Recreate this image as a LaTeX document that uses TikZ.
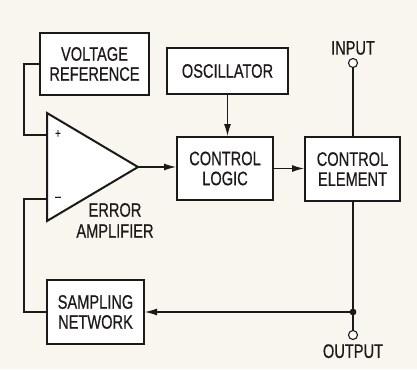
\documentclass[tikz,border=0pt]{standalone}
\usepackage{fontspec}
\setmainfont{Liberation Sans}[FakeStretch=0.75, FakeBold=0.5]
\usetikzlibrary{arrows.meta}
\definecolor{paper}{RGB}{249,245,239}
\definecolor{ink}{RGB}{28,26,24}

\begin{document}
\begin{tikzpicture}[x=1pt, y=-1pt, color=ink,
  block/.style={draw, line width=2pt, fill=white, align=center, inner sep=0pt, font=\fontsize{19.5}{20}\selectfont},
  wire/.style={line width=1.1pt},
  feed/.style={wire, -{Latex[length=12pt,width=7pt]}},
  lbl/.style={inner sep=0pt, font=\fontsize{19.5}{20}\selectfont},
  term/.style={draw, circle, line width=1.1pt, fill=white, minimum size=9pt, inner sep=0pt}]
\fill[paper] (0,0) rectangle (417,369);
\node[block, minimum width=109, minimum height=62] (vref) at (94.5,64) {VOLTAGE\\REFERENCE};
\node[block, minimum width=121, minimum height=46] (osc) at (227.5,71) {OSCILLATOR};
\node[block, minimum width=96, minimum height=63] (logic) at (225,168.5) {CONTROL\\LOGIC};
\node[block, minimum width=95, minimum height=64] (elem) at (352.5,169) {CONTROL\\ELEMENT};
\node[block, minimum width=97, minimum height=64] (samp) at (95.5,312) {SAMPLING\\NETWORK};
% error amplifier
\coordinate (amptip) at (138,167);
\coordinate (ampplus) at (47,135);
\coordinate (ampminus) at (47,199);
\draw[line width=2pt, fill=white, line join=miter] (47,113) -- (amptip) -- (47,221) -- cycle;
\node[inner sep=0pt, font=\fontsize{13}{13}\selectfont] (plus) at (58,134) {+};
\node[inner sep=0pt, font=\fontsize{14}{14}\selectfont] (minus) at (58,199) {–};
\node[lbl] (err) at (115,210) {ERROR};
\node[lbl] (amp) at (115,231) {AMPLIFIER};
% terminals
\node[term] (inp) at (353,63) {};
\node[term] (outp) at (353,335) {};
\node[lbl, above=3pt] (inlbl) at (inp.north) {INPUT};
\node[lbl, below=4pt] (outlbl) at (outp.south) {OUTPUT};
\fill (353,312) circle (3.4pt) coordinate (tap);
% connections
\draw[wire] (vref.west) -| ([xshift=-23pt]ampplus) -- (ampplus);
\draw[wire] (ampminus) -- ++(-23,0) |- (samp.west);
\draw[feed] (amptip) -- (amptip -| logic.west);
\draw[feed] (osc.south) -- (osc.south |- logic.north);
\draw[feed] (logic.east) -- (logic.east -| elem.west);
\draw[wire] (inp) -- (inp |- elem.north);
\draw[wire] (elem.south -| tap) -- (tap) -- (outp);
\draw[feed] (tap) -- (tap -| samp.east);
\end{tikzpicture}
\end{document}
